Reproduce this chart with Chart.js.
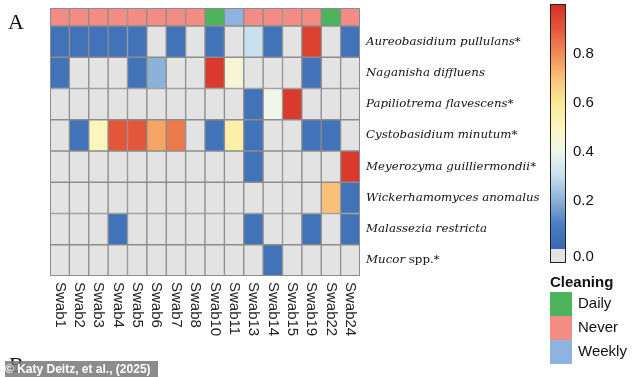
<!DOCTYPE html>
<html><head><meta charset="utf-8">
<script src="https://cdn.jsdelivr.net/npm/chart.js@4.4.1/dist/chart.umd.min.js"></script>
<style>html,body{margin:0;padding:0;background:#fff;}#wrap{width:634px;height:377px;position:relative;}</style>
</head><body><div id="wrap"><canvas id="c" width="634" height="377"></canvas></div>
<script>
// ---- data ----
const swabs = ['Swab1','Swab2','Swab3','Swab4','Swab5','Swab6','Swab7','Swab8','Swab10','Swab11','Swab13','Swab14','Swab15','Swab19','Swab22','Swab24'];
const cleaning = ['Never','Never','Never','Never','Never','Never','Never','Never','Daily','Weekly','Never','Never','Never','Never','Daily','Never'];
const species = ['Aureobasidium pullulans*','Naganisha diffluens','Papiliotrema flavescens*','Cystobasidium minutum*','Meyerozyma guilliermondii*','Wickerhamomyces anomalus','Malassezia restricta','Mucor spp.*'];
const aureobasidium   = [0.05,0.05,0.05,0.05,0.05,0,0.05,0,0.05,0,0.3,0.05,0,0.95,0,0.05];
const naganisha       = [0.05,0,0,0,0.05,0.2,0,0,0.97,0.45,0,0,0,0.05,0,0];
const papiliotrema    = [0,0,0,0,0,0,0,0,0,0,0.05,0.4,0.97,0,0,0];
const cystobasidium   = [0,0.05,0.5,0.9,0.9,0.75,0.83,0,0.05,0.55,0.05,0,0,0.05,0.05,0];
const meyerozyma      = [0,0,0,0,0,0,0,0,0,0,0.05,0,0,0,0,0.97];
const wickerhamomyces = [0,0,0,0,0,0,0,0,0,0,0,0,0,0,0.7,0.05];
const malassezia      = [0,0,0,0.05,0,0,0,0,0,0,0.05,0,0,0.05,0,0.05];
const mucor           = [0,0,0,0,0,0,0,0,0,0,0,0.05,0,0,0,0];
const rows = [aureobasidium,naganisha,papiliotrema,cystobasidium,meyerozyma,wickerhamomyces,malassezia,mucor];
const colorbarTicks = [0.0,0.2,0.4,0.6,0.8];
const cleaningLevels = ['Daily','Never','Weekly'];
const cleaningColors = {Daily:'#4db45b',Never:'#f38c85',Weekly:'#8fb3df'};

// ---- colour scale ----
const stops = [
  [0.0,[58,104,176]],[0.1,[74,126,192]],[0.2,[140,178,218]],[0.3,[200,224,240]],
  [0.4,[240,246,234]],[0.5,[252,246,190]],[0.6,[252,232,150]],[0.7,[250,192,120]],
  [0.8,[241,138,85]],[0.9,[228,86,58]],[1.0,[214,46,38]]
];
const zeroColor = '#e3e3e3';
function heat(v){
  if(v<=0) return zeroColor;
  for(let i=1;i<stops.length;i++){
    if(v<=stops[i][0]){
      const a=stops[i-1],b=stops[i],t=(v-a[0])/(b[0]-a[0]);
      const c=a[1].map((x,k)=>Math.round(x+(b[1][k]-x)*t));
      return `rgb(${c[0]},${c[1]},${c[2]})`;
    }
  }
  const c=stops[stops.length-1][1];return `rgb(${c[0]},${c[1]},${c[2]})`;
}

const annH = 18/31.2;
const nRows = species.length;
const datasets = rows.map((vals,r)=>({
  label: species[r],
  data: vals.map(()=>[nRows-1-r, nRows-r]),
  backgroundColor: vals.map(heat),
  borderColor:'#8c8c8c', borderWidth:1, borderSkipped:false, grouped:false,
  barPercentage:1, categoryPercentage:1
}));
datasets.push({
  label:'Cleaning',
  data: cleaning.map(()=>[nRows, nRows+annH]),
  backgroundColor: cleaning.map(c=>cleaningColors[c]),
  borderColor:'#8c8c8c', borderWidth:1, borderSkipped:false, grouped:false,
  barPercentage:1, categoryPercentage:1
});

const deco = {
  id:'deco',
  afterDraw(chart){
    const ctx=chart.ctx, xs=chart.scales.x, ys=chart.scales.y, ca=chart.chartArea;
    ctx.save();
    ctx.strokeStyle='#8c8c8c';ctx.lineWidth=1;
    ctx.strokeRect(ca.left+0.5,ca.top+0.5,ca.right-ca.left-1,ca.bottom-ca.top-1);
    // species labels
    ctx.fillStyle='#111';ctx.textBaseline='middle';ctx.textAlign='left';
    const sf='11.8px "DejaVu Serif"';
    species.forEach((s,r)=>{
      const y=ys.getPixelForValue(nRows-r-0.5);
      const x=ca.right+6;
      const idx=s.indexOf(' spp.');
      if(idx>=0){
        ctx.font='italic '+sf;
        const g=s.slice(0,idx);ctx.fillText(g,x,y);
        const w=ctx.measureText(g).width;
        ctx.font=sf;ctx.fillText(s.slice(idx),x+w,y);
      } else {
        ctx.font='italic '+sf;ctx.fillText(s,x,y);
      }
    });
    // x labels rotated +90
    ctx.font='15px "Liberation Sans"';ctx.fillStyle='#222';
    swabs.forEach((s,i)=>{
      const x=xs.getPixelForValue(i);
      ctx.save();ctx.translate(x,ca.bottom+6);ctx.rotate(Math.PI/2);
      ctx.textAlign='left';ctx.textBaseline='middle';ctx.fillText(s,0,0);ctx.restore();
    });
    // colorbar
    const cbL=550,cbW=16,cbTop=4,cbZero=249,cbBot=263;
    const grad=ctx.createLinearGradient(0,cbZero,0,cbTop);
    stops.forEach(s=>grad.addColorStop(s[0],`rgb(${s[1].join(',')})`));
    ctx.fillStyle=grad;ctx.fillRect(cbL,cbTop,cbW,cbZero-cbTop);
    ctx.fillStyle=zeroColor;ctx.fillRect(cbL,cbZero,cbW,cbBot-cbZero);
    ctx.strokeStyle='#222';ctx.lineWidth=1;ctx.strokeRect(cbL+0.5,cbTop+0.5,cbW-1,cbBot-cbTop-1);
    ctx.fillStyle='#111';ctx.font='15px "Liberation Sans"';ctx.textAlign='left';ctx.textBaseline='middle';
    colorbarTicks.forEach(t=>{
      const y = t===0 ? (cbZero+cbBot)/2 : cbZero-(cbZero-cbTop)*t;
      ctx.fillText(t.toFixed(1),cbL+cbW+7,y+1);
    });
    // legend
    ctx.font='bold 15px "Liberation Sans"';ctx.textBaseline='alphabetic';
    ctx.fillText('Cleaning',550,287);
    ctx.font='15px "Liberation Sans"';ctx.textBaseline='middle';
    cleaningLevels.forEach((l,i)=>{
      const y=292+i*24;
      ctx.fillStyle=cleaningColors[l];ctx.fillRect(550,y,22,24);
      ctx.fillStyle='#111';ctx.fillText(l,578,y+12);
    });
    // panel letters
    ctx.font='22px "Liberation Serif"';ctx.textBaseline='alphabetic';ctx.fillStyle='#111';
    ctx.fillText('A',8,29);
    ctx.fillText('B',9,372);
    // watermark
    ctx.fillStyle='rgba(120,120,120,0.85)';ctx.fillRect(5,361,153,16);
    ctx.fillStyle='#fff';ctx.font='bold 12px "Liberation Sans"';ctx.textBaseline='middle';
    ctx.fillText('\u00A9 Katy Deitz, et al., (2025)',5,369.5);
    ctx.restore();
  }
};

new Chart(document.getElementById('c'),{
  type:'bar',
  data:{labels:swabs,datasets},
  options:{
    responsive:false,animation:false,
    layout:{padding:{left:50,top:8,right:274,bottom:101}},
    plugins:{legend:{display:false},tooltip:{enabled:false}},
    scales:{
      x:{display:false,offset:true,grid:{display:false}},
      y:{display:false,min:0,max:nRows+annH,grid:{display:false}}
    }
  },
  plugins:[deco]
});
</script></body></html>
